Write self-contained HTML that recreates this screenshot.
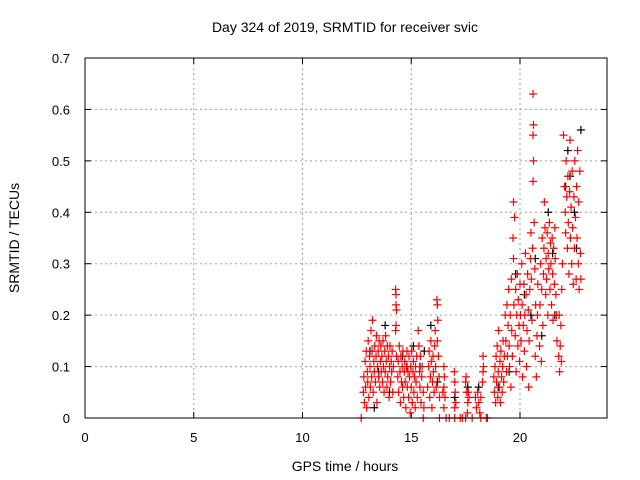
<!DOCTYPE html>
<html><head><meta charset="utf-8"><style>
body{margin:0;background:#fff}
svg{display:block;font-family:"Liberation Sans",sans-serif}
</style></head><body>
<svg id="chart" width="640" height="480">
<text x="345" y="32" font-size="14" text-anchor="middle">Day 324 of 2019, SRMTID for receiver svic</text>
<text x="345" y="471" font-size="14" text-anchor="middle">GPS time / hours</text>
<text transform="translate(19,238) rotate(-90)" font-size="14" text-anchor="middle">SRMTID / TECUs</text>
<g id="grid"></g>
<g id="ticks"></g>
<g id="black"></g>
<g id="red"></g>
<rect x="85" y="58" width="522" height="360" fill="none" stroke="#000"/>
</svg>
<script>
const xTicks=[0,5,10,15,20];
const yTicks=[0,0.1,0.2,0.3,0.4,0.5,0.6,0.7];
const yTickLabels=["0","0.1","0.2","0.3","0.4","0.5","0.6","0.7"];
const redPts=[[12.7,0],[15.55,0],[16.3,0],[16.6,0],[16.75,0],[17.0,0],[17.25,0],[17.35,0],[17.5,0],[17.8,0],[18.2,0],[18.45,0],[18.5,0],
[12.8,0.05],[12.82,0.08],[12.85,0.03],[12.88,0.11],[12.9,0.06],[12.93,0.13],[12.95,0.02],[12.98,0.09],[13.0,0.07],[13.02,0.15],[13.05,0.04],[13.08,0.12],[13.1,0.1],[13.12,0.06],[13.15,0.17],[13.18,0.08],[13.2,0.13],[13.22,0.19],[13.25,0.05],[13.28,0.11],[13.3,0.09],[13.32,0.14],[13.35,0.07],[13.38,0.12],[13.4,0.16],[13.42,0.03],[13.45,0.1],[13.48,0.13],[13.5,0.08],[13.52,0.15],[13.55,0.06],[13.58,0.11],[13.6,0.14],[13.62,0.09],
[13.65,0.12],[13.68,0.07],[13.7,0.15],[13.72,0.1],[13.75,0.05],[13.78,0.13],[13.8,0.09],[13.82,0.16],[13.85,0.11],[13.88,0.06],[13.9,0.14],[13.92,0.08],[13.95,0.12],[13.98,0.04],[14.0,0.1],[14.02,0.14],[14.05,0.07],[14.08,0.11],[14.1,0.09],[14.12,0.13],[14.15,0.05],[14.18,0.1],
[14.28,0.25],[14.3,0.24],[14.3,0.22],[14.32,0.21],[14.3,0.18],[14.28,0.17],[14.32,0.12],
[14.38,0.08],[14.4,0.11],[14.42,0.05],[14.45,0.14],[14.48,0.09],[14.5,0.03],[14.52,0.12],[14.55,0.07],[14.58,0.1],[14.6,0.06],[14.62,0.13],[14.65,0.04],[14.68,0.09],[14.7,0.11],[14.72,0.07],[14.75,0.02],[14.78,0.1],[14.8,0.13],[14.82,0.06],[14.85,0.09],[14.88,0.04],[14.9,0.12],[14.92,0.08],[14.95,0.01],[14.98,0.1],[15.0,0.06],[15.02,0.13],[15.05,0.03],[15.08,0.09],[15.1,0.11],[15.12,0.05],[15.15,0.08],[15.18,0.02],[15.2,0.1],[15.22,0.07],[15.25,0.12],[15.28,0.04],
[15.32,0.17],[15.35,0.14],[15.38,0.09],[15.4,0.06],[15.42,0.12],[15.45,0.03],[15.48,0.08],[15.5,0.1],[15.55,0.05],[15.58,0.02],
[15.75,0.06],[15.8,0.1],[15.82,0.13],[15.85,0.04],[15.88,0.08],[15.9,0.15],[15.92,0.11],[15.95,0.02],[15.98,0.07],[16.0,0.12],[16.02,0.09],[16.05,0.05],[16.08,0.14],[16.1,0.17],[16.12,0.1],[16.15,0.06],[16.18,0.23],[16.2,0.22],[16.22,0.19],[16.2,0.15],[16.25,0.12],[16.28,0.08],[16.3,0.04],
[16.5,0.1],[16.52,0.08],[16.5,0.06],[16.55,0.04],[16.5,0.02],[16.45,0.05],
[17.0,0.07],[17.02,0.05],[17.05,0.03],[16.98,0.09],[17.0,0.02],
[17.5,0.07],[17.55,0.05],[17.52,0.08],[17.6,0.03],[17.62,0.05],[17.58,0.01],[17.65,0.04],
[17.95,0.04],[18.0,0.02],[18.05,0.05],[18.1,0.03],[18.15,0.01],[18.2,0.04],
[18.3,0.12],[18.32,0.1],[18.3,0.09],[18.28,0.07],
[18.8,0.08],[18.82,0.05],[18.85,0.1],[18.88,0.03],[18.9,0.12],[18.92,0.07],[18.95,0.14],[18.98,0.04],[19.0,0.09],[19.02,0.17],[19.05,0.06],[19.08,0.11],[19.1,0.03],[19.12,0.13],[19.15,0.08],[19.18,0.05],[19.2,0.1],[19.22,0.15],[19.25,0.07],[19.28,0.12],
[19.32,0.2],[19.35,0.15],[19.38,0.09],[19.4,0.22],[19.42,0.12],[19.45,0.18],[19.48,0.25],[19.5,0.14],[19.52,0.1],[19.55,0.2],[19.58,0.06],[19.6,0.27],[19.62,0.17],[19.65,0.12],[19.68,0.35],[19.7,0.31],[19.72,0.22],[19.75,0.39],[19.7,0.42],[19.78,0.16],[19.8,0.25],[19.82,0.09],[19.85,0.2],[19.88,0.28],[19.9,0.14],[19.92,0.23],[19.95,0.18],[19.98,0.11],
[20.0,0.26],[20.02,0.2],[20.05,0.15],[20.08,0.3],[20.1,0.22],[20.12,0.08],[20.15,0.18],[20.18,0.26],[20.2,0.13],[20.22,0.2],[20.25,0.32],[20.28,0.24],[20.3,0.1],[20.32,0.17],[20.35,0.28],[20.38,0.21],[20.4,0.06],[20.42,0.15],[20.45,0.25],[20.48,0.31],[20.5,0.36],[20.52,0.27],[20.55,0.19],[20.58,0.33],[20.6,0.63],[20.62,0.57],[20.6,0.55],[20.62,0.5],[20.6,0.46],[20.65,0.38],[20.68,0.29],[20.7,0.12],[20.72,0.22],[20.75,0.08],[20.78,0.16],[20.8,0.2],[20.82,0.26],
[20.9,0.14],[20.92,0.22],[20.95,0.3],[20.98,0.11],[21.0,0.25],[21.02,0.35],[21.05,0.18],[21.08,0.28],[21.1,0.33],[21.12,0.42],[21.15,0.37],[21.18,0.24],[21.2,0.31],[21.22,0.27],[21.25,0.36],[21.28,0.2],[21.3,0.32],[21.32,0.29],[21.35,0.38],[21.38,0.25],[21.4,0.34],[21.42,0.3],[21.45,0.22],[21.48,0.35],[21.5,0.28],[21.52,0.19],[21.55,0.33],[21.58,0.26],[21.6,0.37],[21.62,0.31],[21.65,0.24],[21.68,0.2],[21.7,0.15],
[21.78,0.12],[21.8,0.2],[21.82,0.09],[21.85,0.14],[21.88,0.18],[21.9,0.11],[21.92,0.25],[21.95,0.3],
[22.0,0.55],[22.05,0.45],[22.08,0.4],[22.1,0.36],[22.12,0.5],[22.15,0.43],[22.18,0.33],[22.2,0.47],[22.22,0.38],[22.25,0.28],[22.28,0.44],[22.3,0.54],[22.32,0.35],[22.35,0.41],[22.38,0.3],[22.4,0.48],[22.42,0.37],[22.45,0.26],[22.48,0.43],[22.5,0.33],[22.52,0.5],[22.55,0.39],[22.58,0.27],[22.6,0.45],[22.62,0.35],[22.65,0.52],[22.68,0.3],[22.7,0.42],[22.72,0.25],[22.75,0.48],[22.78,0.32],[22.8,0.27]];
const blackPts=[[13.1,0.13],[13.5,0.09],[13.3,0.02],[14.0,0.05],[14.6,0.12],[15.1,0.14],[15.4,0.1],[15.9,0.18],[16.2,0.07],[17.0,0.04],[17.6,0.06],[18.1,0.06],[19.0,0.06],[19.5,0.09],[19.8,0.28],[20.2,0.24],[20.5,0.2],[20.7,0.31],[21.0,0.16],[21.3,0.4],[21.5,0.32],[21.6,0.2],[22.1,0.45],[22.3,0.47],[22.5,0.4],[22.6,0.33],[22.8,0.56],[22.2,0.52],[13.8,0.18],[14.8,0.1],[15.6,0.13]];

const X0=85,X1=607,Y0=418,Y1=58,XMAX=24,YMAX=0.7;
const sx=v=>X0+v/XMAX*(X1-X0);
const sy=v=>Y0-v/YMAX*(Y0-Y1);
const NS="http://www.w3.org/2000/svg";
function mk(tag,attrs,parent){const e=document.createElementNS(NS,tag);for(const k in attrs)e.setAttribute(k,attrs[k]);parent.appendChild(e);return e;}
const grid=document.getElementById('grid'),ticks=document.getElementById('ticks');
xTicks.forEach(t=>{
  const x=sx(t);
  if(t>0){const g=mk('line',{x1:x,x2:x,y1:Y1,y2:Y0,stroke:'#a0a0a0','stroke-dasharray':'2,3'},grid);
  
  }
  mk('line',{x1:x,x2:x,y1:Y0,y2:Y0-6,stroke:'#000'},ticks);
  mk('line',{x1:x,x2:x,y1:Y1,y2:Y1+6,stroke:'#000'},ticks);
  const l=mk('text',{x:x,y:Y0+24,'font-size':13,'text-anchor':'middle'},ticks);l.textContent=t;
  
  
});
yTicks.forEach((t,i)=>{
  const y=sy(t);
  if(t>0&&t<YMAX){const g=mk('line',{x1:X0,x2:X1,y1:y,y2:y,stroke:'#a0a0a0','stroke-dasharray':'2,3'},grid);
  
  }
  mk('line',{x1:X0,x2:X0+6,y1:y,y2:y,stroke:'#000'},ticks);
  mk('line',{x1:X1,x2:X1-6,y1:y,y2:y,stroke:'#000'},ticks);
  const l=mk('text',{x:X0-15,y:y+5,'font-size':13,'text-anchor':'end'},ticks);l.textContent=yTickLabels[i];
  
  
});
function plot(pts,gid,col){
  const g=document.getElementById(gid);
  pts.forEach(p=>{
    const x=sx(p[0]),y=sy(p[1]);
    const m=mk('path',{d:`M${x-4} ${y}H${x+4}M${x} ${y-4}V${y+4}`,stroke:col,'stroke-width':1.2,fill:'none'},g);
    
    
  });
}
plot(blackPts,'black','#000');
plot(redPts,'red','#f00');
</script>
</body></html>
